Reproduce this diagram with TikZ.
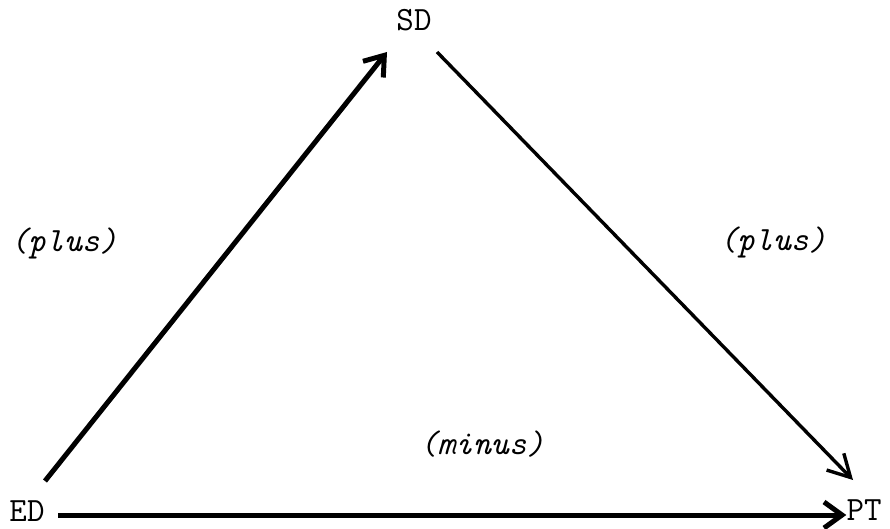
\documentclass[tikz,border=0pt]{standalone}
\usetikzlibrary{arrows.meta}
\begin{document}
\begin{tikzpicture}[x=1pt,y=-1pt,
  lbl/.style={font=\ttfamily\fontsize{34}{36}\selectfont, inner sep=0pt},
  itl/.style={font=\ttfamily\itshape\fontsize{34}{36}\selectfont, inner sep=0pt},
  conn/.style={line width=5pt, -{Straight Barb[length=18pt,width=26pt,line width=5pt]}},
  conn2/.style={line width=3.4pt, -{Straight Barb[length=22pt,width=24pt,line width=3.4pt]}}]
\useasboundingbox (0,0) rectangle (890,529);
\node[lbl] (SD) at (414,20) {SD};
\node[lbl] (ED) at (27,511) {ED};
\node[lbl] (PT) at (864,510) {PT};
\node[itl] (pl) at (64,243) {(plus)};
\node[itl] (pr) at (773,242) {(plus)};
\node[itl] (mi) at (482,444) {(minus)};
\coordinate (a1) at (45,481);
\coordinate (a2) at (387,52);
\coordinate (b1) at (437,52);
\coordinate (b2) at (853,480);
\draw[conn] (a1) -- (a2);
\draw[conn2] (b1) -- (b2);
\coordinate (c1) at (58,515);
\draw[conn] (c1) -- (PT.west |- c1);
\end{tikzpicture}
\end{document}
